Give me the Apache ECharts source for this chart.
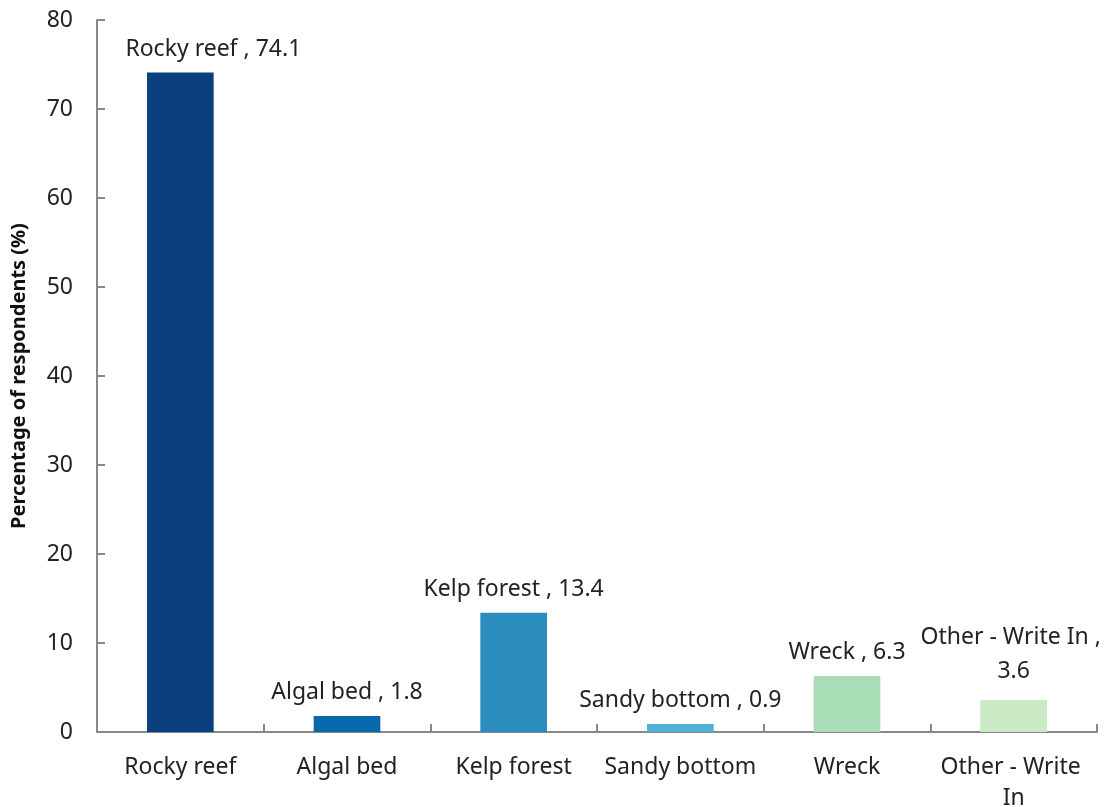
<!DOCTYPE html>
<html><head><meta charset="utf-8">
<script src="https://cdn.jsdelivr.net/npm/echarts@6/dist/echarts.min.js"></script>
<style>html,body{margin:0;padding:0;background:#fff}#c{width:1111px;height:807px}</style>
</head><body><div id="c"></div>
<script>
const categories = ["Rocky reef", "Algal bed", "Kelp forest", "Sandy bottom", "Wreck", "Other - Write In"];
const values = [74.1, 1.8, 13.4, 0.9, 6.3, 3.6];
const colors = ["#0B3F7E", "#0868AC", "#2B8CBE", "#4EB3D3", "#A8DDB5", "#CCEBC5"];
const yTicks = { min: 0, max: 80, interval: 10 };
const yTitle = "Percentage of respondents (%)";

const font = "'Noto Sans', 'Open Sans', sans-serif";
const chart = echarts.init(document.getElementById('c'), null, { renderer: 'canvas' });

const data = values.map((v, i) => {
  const item = { value: v, itemStyle: { color: colors[i] } };
  if (i === 0) item.label = { offset: [33, 0] };
  if (i === values.length - 1) item.label = { width: 195, overflow: 'break', lineHeight: 34 };
  return item;
});

chart.setOption({
  animation: false,
  grid: { left: 97, right: 14, top: 20, bottom: 75, containLabel: false, outerBoundsMode: 'none' },
  xAxis: {
    type: 'category', data: categories,
    axisLine: { lineStyle: { color: '#888', width: 2 } },
    axisTick: { show: true, inside: true, length: 8, lineStyle: { color: '#888', width: 2 } },
    axisLabel: { color: '#222', fontSize: 23, fontFamily: font, margin: 20, width: 160, overflow: 'break', lineHeight: 31, interval: 0 }
  },
  yAxis: {
    type: 'value', min: yTicks.min, max: yTicks.max, interval: yTicks.interval,
    name: yTitle, nameLocation: 'middle', nameGap: 68,
    nameTextStyle: { fontSize: 20, fontWeight: 'bold', color: '#111', fontFamily: font },
    axisLine: { show: true, lineStyle: { color: '#888', width: 2 } },
    axisTick: { show: true, inside: true, length: 8, lineStyle: { color: '#888', width: 2 } },
    splitLine: { show: false },
    axisLabel: { color: '#222', fontSize: 23, fontFamily: font, margin: 24 }
  },
  series: [{
    type: 'bar', barCategoryGap: '60%',
    data: data,
    label: {
      show: true, position: 'top', distance: 12, color: '#222', fontSize: 23, fontFamily: font,
      align: 'center',
      formatter: p => p.name + ' , ' + p.value
    }
  }]
});
</script></body></html>
